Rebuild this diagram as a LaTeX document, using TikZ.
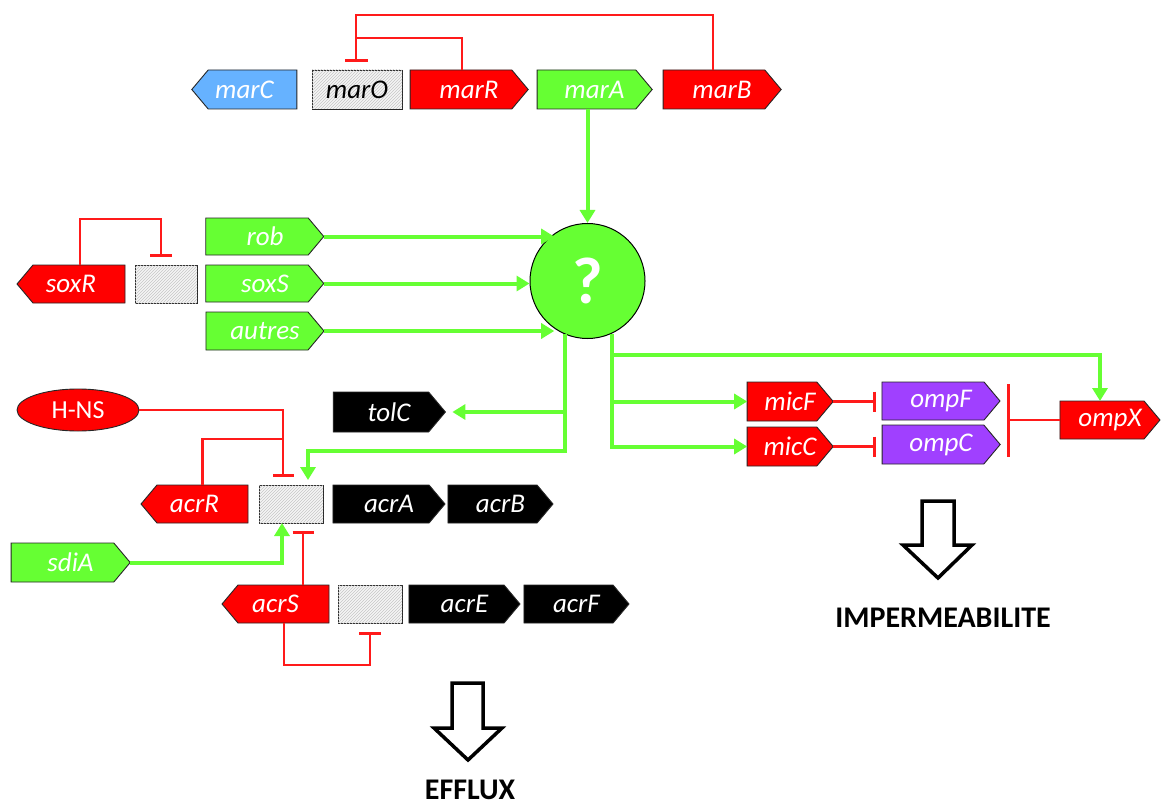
\documentclass[tikz,border=0pt]{standalone}
\usepackage{fontspec}
\setmainfont{Carlito}
\usetikzlibrary{shapes.symbols,shapes.geometric,arrows.meta,patterns,calc}
\definecolor{gred}{HTML}{FF0000}
\definecolor{ggreen}{HTML}{66FF33}
\definecolor{gblue}{HTML}{66B2FF}
\definecolor{gpurple}{HTML}{A040FF}
\definecolor{lred}{HTML}{FF1A1A}
\newcommand{\tr}[1]{\hspace*{16pt}#1}
\newcommand{\tl}[1]{#1\hspace*{16pt}}
\begin{document}
\begin{tikzpicture}[x=1pt,y=-1pt,
 gene/.style={signal, signal pointer angle=100, draw=black!85, line width=0.9pt, minimum height=38pt, inner sep=0pt, outer sep=0pt, text=white, font=\fontsize{27}{30}\selectfont\itshape},
 gr/.style={gene, signal to=east, xshift=-8pt},
 gl/.style={gene, signal to=west, xshift=8pt},
 prom/.style={rectangle, draw=black!85, line width=0.9pt, fill=gray!8, postaction={pattern=north east lines, pattern color=gray!45}, minimum height=38pt, inner sep=0pt, outer sep=0pt, font=\fontsize{27}{30}\selectfont\itshape},
 act/.style={draw=ggreen, line width=4pt, -{Triangle[width=15pt,length=13pt]}},
 inh/.style={draw=lred, line width=2.8pt, -{Bar[width=23pt]}},
 inhl/.style={draw=lred, line width=2.8pt},
 bigarrow/.style={draw=black, line width=3.5pt, fill=white, line join=miter},
 lab/.style={font=\fontsize{30}{34}\selectfont\bfseries, inner sep=0pt}
]
\useasboundingbox (0,0) rectangle (1164,805);
\fill[white] (0,0) rectangle (1164,805);

% mar operon
\node[gl, fill=gblue, minimum width=105pt, minimum height=39pt] (marC) at (244.5,89.5) {\tl{marC}};
\node[prom, minimum width=90pt, minimum height=39pt] (marO) at (357,89.5) {marO};
\node[gr, fill=gred, minimum width=118pt, minimum height=39pt] (marR) at (469,89.5) {\tr{marR}};
\node[gr, fill=ggreen, minimum width=115pt, minimum height=39pt] (marA) at (594.5,89.5) {\tr{marA}};
\node[gr, fill=gred, minimum width=118pt, minimum height=39pt] (marB) at (722,89.5) {\tr{marB}};

% sox
\node[gl, fill=gred, minimum width=108pt] (soxR) at (71,284) {\tl{soxR}};
\node[prom, minimum width=62pt] (soxBox) at (166,284) {};
\node[gr, fill=ggreen, minimum width=118pt, minimum height=37pt] (rob) at (265,236.5) {\tr{rob}};
\node[gr, fill=ggreen, minimum width=118pt, minimum height=37pt] (soxS) at (265,283.5) {\tr{soxS}};
\node[gr, fill=ggreen, minimum width=118pt] (autres) at (265,331) {\tr{autres}};

% central node
\node[circle, draw=black, line width=1pt, fill=ggreen, minimum size=115pt, inner sep=0pt, text=white, font=\fontsize{66}{70}\selectfont\bfseries] (q) at (587.5,281) {?};

% acr
\node[ellipse, draw=black!85, line width=0.9pt, fill=gred, minimum width=122pt, minimum height=42pt, inner sep=0pt, outer sep=0pt, text=white, font=\fontsize{26}{29}\selectfont] (HNS) at (78,410) {H-NS};
\node[gr, fill=black, minimum width=112pt, minimum height=40pt] (tolC) at (389,412) {\tr{tolC}};
\node[gl, fill=gred, minimum width=107pt] (acrR) at (194.5,504) {\tl{acrR}};
\node[prom, minimum width=64pt] (acrBox) at (291,504) {};
\node[gr, fill=black, minimum width=112pt] (acrA) at (389,504) {\tr{acrA}};
\node[gr, fill=black, minimum width=105pt] (acrB) at (500.5,504) {\tr{acrB}};
\node[gr, fill=ggreen, minimum width=119pt, minimum height=39pt] (sdiA) at (70.5,562.5) {\tr{sdiA}};
\node[gl, fill=gred, minimum width=107pt] (acrS) at (275.5,604) {\tl{acrS}};
\node[prom, minimum width=64pt] (acrSBox) at (370,604) {};
\node[gr, fill=black, minimum width=111pt] (acrE) at (464.5,604) {\tr{acrE}};
\node[gr, fill=black, minimum width=105pt] (acrF) at (576.5,604) {\tr{acrF}};

% omp
\node[gr, fill=gred, minimum width=86pt, minimum height=39pt] (micF) at (790,401.5) {\tr{micF}};
\node[gr, fill=gred, minimum width=86pt, minimum height=39pt] (micC) at (790,446.5) {\tr{micC}};
\node[gr, fill=gpurple, minimum width=118pt] (ompF) at (941,401) {\tr{ompF}};
\node[gr, fill=gpurple, minimum width=118pt, minimum height=39pt] (ompC) at (941,444.5) {\tr{ompC}};
\node[gr, fill=gred, minimum width=100pt] (ompX) at (1110,420) {\tr{ompX}};

% coordinates
\coordinate (t1) at (356,15);
\coordinate (t2) at (356,38);
\coordinate (mOb) at (356,62);
\coordinate (s1) at (161,219);
\coordinate (s2) at (161,257);
\coordinate (h1) at (283,477);
\coordinate (h2) at (283,439);
\coordinate (g1) at (308,451);
\coordinate (g2) at (1100,355);
\coordinate (ob) at ([xshift=7pt]ompF.east);
\coordinate (ab) at ([yshift=-8pt]acrBox.south);
\coordinate (as1) at ([xshift=19.5pt]acrS.north);
\coordinate (as2) at ([xshift=0.5pt]acrS.south);
\coordinate (sb2) at ([yshift=-9pt]acrSBox.south);
\coordinate (sb3) at ($(sb2)+(0,33)$);

% red regulation
\draw[inh] ([xshift=-1pt]marB.north) |- (t1) -- (mOb);
\draw[inhl] ([xshift=1pt]marR.north) |- (t2);
\draw[inh, -{Bar[width=22pt]}] ([xshift=1pt]soxR.north) |- (s1) -- (s2);
\draw[inh, -{Bar[width=21pt]}] (HNS.east) -| (h1);
\draw[inhl] (acrR.north) |- (h2);
\draw[inh, -{Bar[width=21pt]}] (as1) -- (as1 |- ab);
\draw[inh, -{Bar[width=22pt]}] (as2) |- (sb3) -- (sb2);
\draw[inh, -{Bar[width=20pt]}, shorten >=6pt] (micF.east) -- (micF.east -| ompF.west);
\draw[inh, -{Bar[width=20pt]}, shorten >=6pt] (micC.east) -- (micC.east -| ompC.west);
\draw[inh, -{Bar[width=73pt]}] (ompX.west) -- (ompX.west -| ob);

% green activation
\draw[act] (q.north |- marA.south) -- (q.north);
\draw[act] (rob.east) -- (rob.east -| q.125);
\draw[act] (soxS.east) -- (soxS.east -| q.west);
\draw[act] (autres.east) -- (autres.east -| q.235);
\draw[act, shorten >=5pt] (q.247) |- (g1) -- ([xshift=17pt]acrBox.north);
\draw[act, shorten >=7pt] (q.247 |- tolC.east) -- (tolC.east);
\draw[act] (q.295) |- (g2) -- (g2 |- ompX.north);
\draw[act] (q.295 |- micF.west) -- (micF.west);
\draw[act] (q.295) |- (micC.west);
\draw[act] (sdiA.east) -| ([xshift=-9pt]acrBox.south);

% outcome arrows
\draw[bigarrow] (452,683) -- (483,683) -- (483,728) -- (502,728) -- (468,760) -- (434,728) -- (452,728) -- cycle;
\draw[bigarrow] (922,501) -- (954,501) -- (954,545) -- (972,545) -- (938,578) -- (903,545) -- (922,545) -- cycle;
\node[lab, anchor=base] (efflux) at (470,799) {EFFLUX};
\node[lab, anchor=base] (imperm) at (943,627) {IMPERMEABILITE};
\end{tikzpicture}
\end{document}
